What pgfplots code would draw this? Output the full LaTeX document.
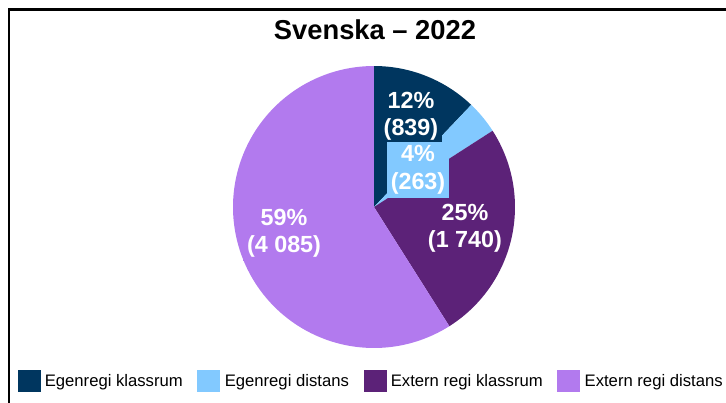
\documentclass[border=0pt]{standalone}
\usepackage{pgfplots}
\pgfplotsset{compat=1.18}
\usepgfplotslibrary{polar}
\usepackage{fontspec}
\setmainfont{Liberation Sans}
\definecolor{cA}{HTML}{00365F}
\definecolor{cB}{HTML}{82C9FF}
\definecolor{cC}{HTML}{5C2278}
\definecolor{cD}{HTML}{B27AEE}
% data (counts)
\def\vA{839}\def\vB{263}\def\vC{1740}\def\vD{4085}
\pgfmathsetmacro\tot{\vA+\vB+\vC+\vD}
\pgfmathsetmacro\aA{90}
\pgfmathsetmacro\aB{\aA-360*(\vA/\tot)}
\pgfmathsetmacro\aC{\aB-360*(\vB/\tot)}
\pgfmathsetmacro\aD{\aC-360*(\vC/\tot)}
\pgfmathsetmacro\aE{\aD-360*(\vD/\tot)}
\begin{document}
\begin{tikzpicture}
\useasboundingbox (0,0) rectangle (544.5pt,-302.25pt);
\begin{scope}[x=0.75pt,y=-0.75pt]
\draw[line width=1.6pt,black] (9,420) -- (9,9.5) -- (760,9.5);
\node[font=\fontsize{20.5}{23}\selectfont\bfseries] at (375,30) {Svenska – 2022};
\end{scope}
\begin{polaraxis}[
  at={(280.5pt,-155.25pt)}, anchor=origin,
  hide axis, xmin=0, xmax=360, ymin=0, ymax=1,
  width=211.5pt, scale only axis, clip=false,
  area legend,
  legend columns=4,
  legend image code/.code={\fill[#1] (0pt,-8.6pt) rectangle (17.25pt,8.6pt);},
  legend style={at={(-0.765,-0.117)}, anchor=west, draw=none, fill=none,
    inner sep=0pt, font=\fontsize{12.5}{15}\selectfont,
    nodes={inner sep=0pt},
    /tikz/every odd column/.append style={column sep=3.2pt},
    /tikz/every even column/.append style={column sep=11pt}},
]
\addplot[fill=cA, draw=none, domain=\aB:\aA, samples=40] {1} -- (axis cs:0,0) -- cycle;
\addlegendentry{Egenregi klassrum}
\addplot[fill=cB, draw=none, domain=\aC:\aB, samples=20] {1} -- (axis cs:0,0) -- cycle;
\addlegendentry{Egenregi distans}
\addplot[fill=cC, draw=none, domain=\aD:\aC, samples=80] {1} -- (axis cs:0,0) -- cycle;
\addlegendentry{Extern regi klassrum}
\addplot[fill=cD, draw=none, domain=\aE:\aD, samples=160] {1} -- (axis cs:0,0) -- cycle;
\addlegendentry{Extern regi distans}
\begin{scope}[every node/.style={text=white, align=center, inner sep=3pt,
   font=\fontsize{17.5}{20.5}\selectfont\bfseries}]
\node[fill=cA] at (axis cs:67.9,0.697) {12\%\\(839)};
\node[fill=cB] at (axis cs:40.1,0.408) {4\%\\(263)};
\node[fill=cC] at (axis cs:-13,0.662) {25\%\\(1~740)};
\node[fill=cD] at (axis cs:196.1,0.664) {59\%\\(4~085)};
\end{scope}
\end{polaraxis}
\end{tikzpicture}
\end{document}
